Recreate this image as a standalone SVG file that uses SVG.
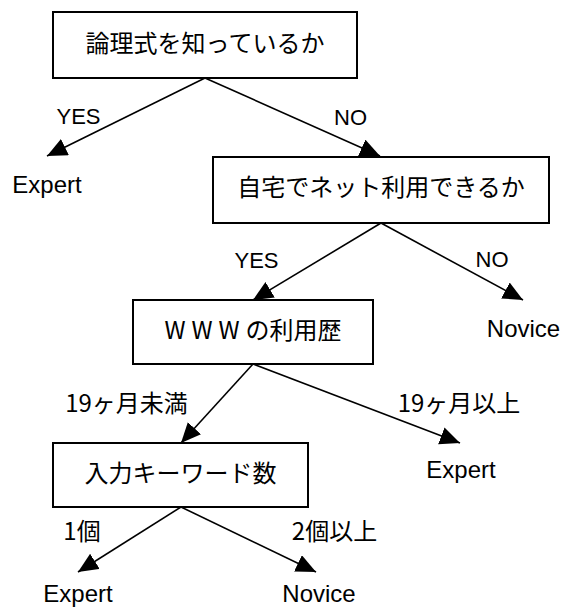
<svg xmlns="http://www.w3.org/2000/svg" width="563" height="609" viewBox="0 0 563 609">
  <style>
    .box { fill: #ffffff; stroke: #000000; stroke-width: 2; }
    .edge { fill: none; stroke: #000000; stroke-width: 1.6; marker-end: url(#arrow); }
    .jp { font-family: "Noto Sans CJK JP", "Liberation Sans", sans-serif; font-size: 24px; fill: #000000; text-anchor: middle; }
    .lat { font-family: "Liberation Sans", Arial, sans-serif; font-size: 24px; fill: #000000; text-anchor: middle; }
    .yn { font-family: "Liberation Sans", Arial, sans-serif; font-size: 22px; fill: #000000; text-anchor: middle; }
  </style>
  <defs>
    <marker id="arrow" markerUnits="userSpaceOnUse" markerWidth="22" markerHeight="20" refX="20" refY="9" orient="auto" viewBox="0 0 22 20">
      <path d="M0,0 L20,9 L0,18 Z" fill="#000000"/>
    </marker>
  </defs>
  <rect width="563" height="609" fill="#ffffff"/>

  <g id="connectors">
    <line class="edge" x1="205" y1="78" x2="47" y2="156"/>
    <line class="edge" x1="205" y1="78" x2="380" y2="156"/>
    <line class="edge" x1="381" y1="223" x2="253" y2="300"/>
    <line class="edge" x1="381" y1="223" x2="523" y2="300"/>
    <line class="edge" x1="253" y1="364" x2="181" y2="443"/>
    <line class="edge" x1="253" y1="364" x2="460" y2="443"/>
    <line class="edge" x1="181" y1="507" x2="78" y2="572"/>
    <line class="edge" x1="181" y1="507" x2="316" y2="572"/>
    <text class="yn" x="78.5" y="124">YES</text>
    <text class="yn" x="350.5" y="125">NO</text>
    <text class="yn" x="256.5" y="268">YES</text>
    <text class="yn" x="492" y="267">NO</text>
    <text class="jp" x="126.5" y="412">19ヶ月未満</text>
    <text class="jp" x="459" y="412">19ヶ月以上</text>
    <text class="jp" x="82" y="540">1個</text>
    <text class="jp" x="334.5" y="540">2個以上</text>
  </g>

  <g id="q1">
    <rect class="box" x="53" y="12" width="304" height="66"/>
    <text class="jp" x="205" y="52">論理式を知っているか</text>
  </g>
  <g id="q2">
    <rect class="box" x="213" y="157" width="336" height="66"/>
    <text class="jp" x="381" y="196">自宅でネット利用できるか</text>
  </g>
  <g id="q3">
    <rect class="box" x="133" y="300" width="240" height="64"/>
    <text class="jp" x="253" y="339"><tspan letter-spacing="6">WWW</tspan>の利用歴</text>
  </g>
  <g id="q4">
    <rect class="box" x="53" y="443" width="255" height="64"/>
    <text class="jp" x="180.5" y="482">入力キーワード数</text>
  </g>

  <g id="leaf1"><text class="lat" x="47" y="193">Expert</text></g>
  <g id="leaf2"><text class="lat" x="523.5" y="337">Novice</text></g>
  <g id="leaf3"><text class="lat" x="461" y="478">Expert</text></g>
  <g id="leaf4"><text class="lat" x="78" y="602">Expert</text></g>
  <g id="leaf5"><text class="lat" x="319" y="602">Novice</text></g>
</svg>
